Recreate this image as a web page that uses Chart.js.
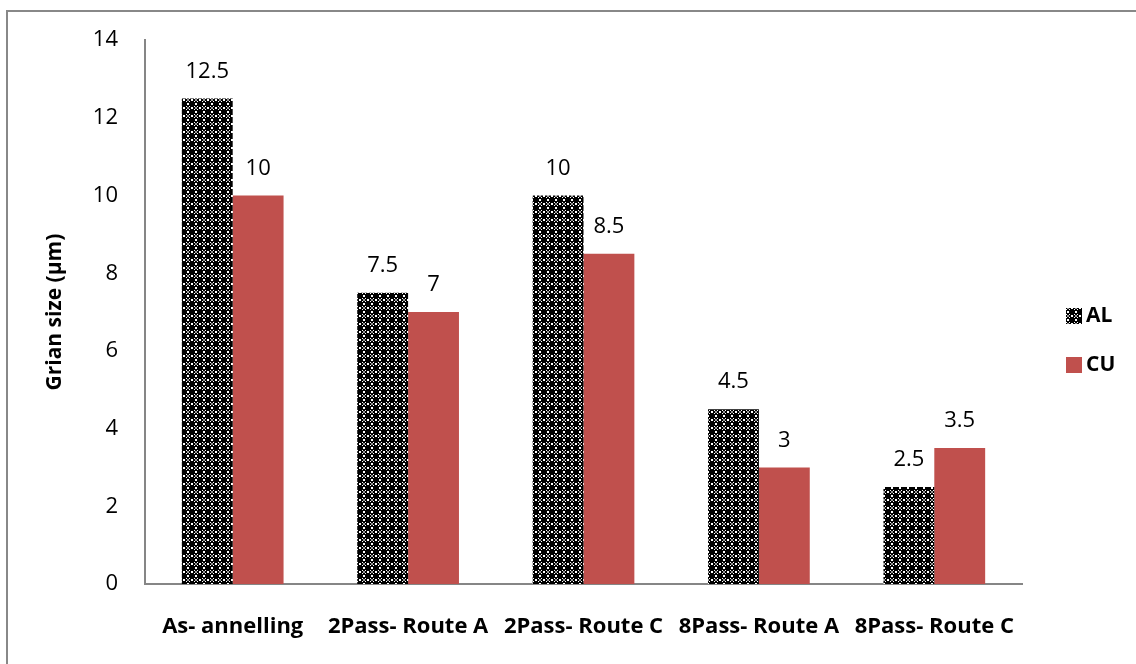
<!DOCTYPE html>
<html>
<head>
<meta charset="utf-8">
<script src="https://cdn.jsdelivr.net/npm/chart.js@4"></script>
<style>
  html, body { margin: 0; background: #fff; }
  #wrap { width: 1136px; height: 664px; }
</style>
</head>
<body>
<div id="wrap"><canvas id="myChart"></canvas></div>
<script>
const categories = ["As- annelling", "2Pass- Route A", "2Pass- Route C", "8Pass- Route A", "8Pass- Route C"];
const alValues = [12.5, 7.5, 10, 4.5, 2.5];
const cuValues = [10, 7, 8.5, 3, 3.5];
const yTicks = [0, 2, 4, 6, 8, 10, 12, 14];

const FONT = "'Open Sans', sans-serif";

// hatched fill for the AL bars
const pc = document.createElement("canvas");
pc.width = 8;
pc.height = 8;
const p = pc.getContext("2d");
p.fillStyle = "#000";
p.fillRect(0, 0, 8, 8);
p.fillStyle = "#fff";
p.fillRect(3, 0, 2, 1);
p.fillRect(3, 7, 2, 1);
p.fillRect(0, 3, 1, 2);
p.fillRect(7, 3, 1, 2);
p.fillRect(2, 2, 1, 1);
p.fillRect(5, 2, 1, 1);
p.fillRect(2, 5, 1, 1);
p.fillRect(5, 5, 1, 1);
p.fillStyle = "#999";
p.fillRect(3, 3, 2, 2);
const ctx = document.getElementById("myChart").getContext("2d");
const alPattern = ctx.createPattern(pc, "repeat");

const frame = {
  id: "frame",
  beforeDraw(chart) {
    const c = chart.ctx;
    c.save();
    c.strokeStyle = "#888";
    c.lineWidth = 2;
    c.strokeRect(7, 11, 1300, 800);
    c.restore();
  },
};

const barLabels = {
  id: "barLabels",
  afterDatasetsDraw(chart) {
    const c = chart.ctx;
    c.save();
    c.font = "22px " + FONT;
    c.fillStyle = "#000";
    c.textAlign = "center";
    c.textBaseline = "middle";
    chart.data.datasets.forEach((ds, i) => {
      chart.getDatasetMeta(i).data.forEach((bar, j) => {
        c.fillText(String(ds.data[j]), bar.x, bar.y - 27);
      });
    });
    c.restore();
  },
};

// legend drawn by hand so it sits where the original does
const sideLegend = {
  id: "sideLegend",
  afterDraw(chart) {
    const c = chart.ctx;
    const x = chart.chartArea.right + 44;
    c.save();
    c.font = "bold 21px " + FONT;
    c.textBaseline = "middle";
    chart.data.datasets.forEach((ds, i) => {
      const y = 316 + i * 49;
      c.fillStyle = ds.backgroundColor;
      c.fillRect(x, y - 8, 16, 16);
      c.fillStyle = "#000";
      c.fillText(ds.label, x + 20, y);
    });
    c.restore();
  },
};

const myChart = new Chart(ctx, {
  type: "bar",
  data: {
    labels: categories,
    datasets: [
      {
        label: "AL",
        data: alValues,
        backgroundColor: alPattern,
        borderWidth: 0,
      },
      {
        label: "CU",
        data: cuValues,
        backgroundColor: "#c0504d",
        borderWidth: 0,
      },
    ],
  },
  options: {
    responsive: true,
    maintainAspectRatio: false,
    animation: false,
    layout: { padding: { left: 0, top: 40, right: 114, bottom: 0 } },
    datasets: {
      bar: { categoryPercentage: 0.58, barPercentage: 1 },
    },
    scales: {
      x: {
        grid: { display: false, drawTicks: false },
        border: { display: true, color: "#868686", width: 2 },
        afterFit(axis) {
          axis.height = 80;
        },
        ticks: {
          color: "#000",
          padding: 30,
          maxRotation: 0,
          font: { family: FONT, size: 22, weight: "bold" },
        },
      },
      y: {
        min: 0,
        max: 14,
        afterBuildTicks(axis) {
          axis.ticks = yTicks.map((v) => ({ value: v }));
        },
        afterFit(axis) {
          axis.width = 145;
        },
        grid: { display: false, drawTicks: false },
        border: { display: true, color: "#868686", width: 2 },
        ticks: {
          color: "#000",
          padding: 27,
          font: { family: FONT, size: 22 },
        },
        title: {
          display: true,
          text: "Grian size (µm)",
          color: "#000",
          padding: { top: 42, bottom: 0 },
          font: { family: FONT, size: 21, weight: "bold" },
        },
      },
    },
    plugins: {
      legend: { display: false },
      tooltip: { enabled: false },
    },
  },
  plugins: [frame, barLabels, sideLegend],
});
</script>
</body>
</html>
